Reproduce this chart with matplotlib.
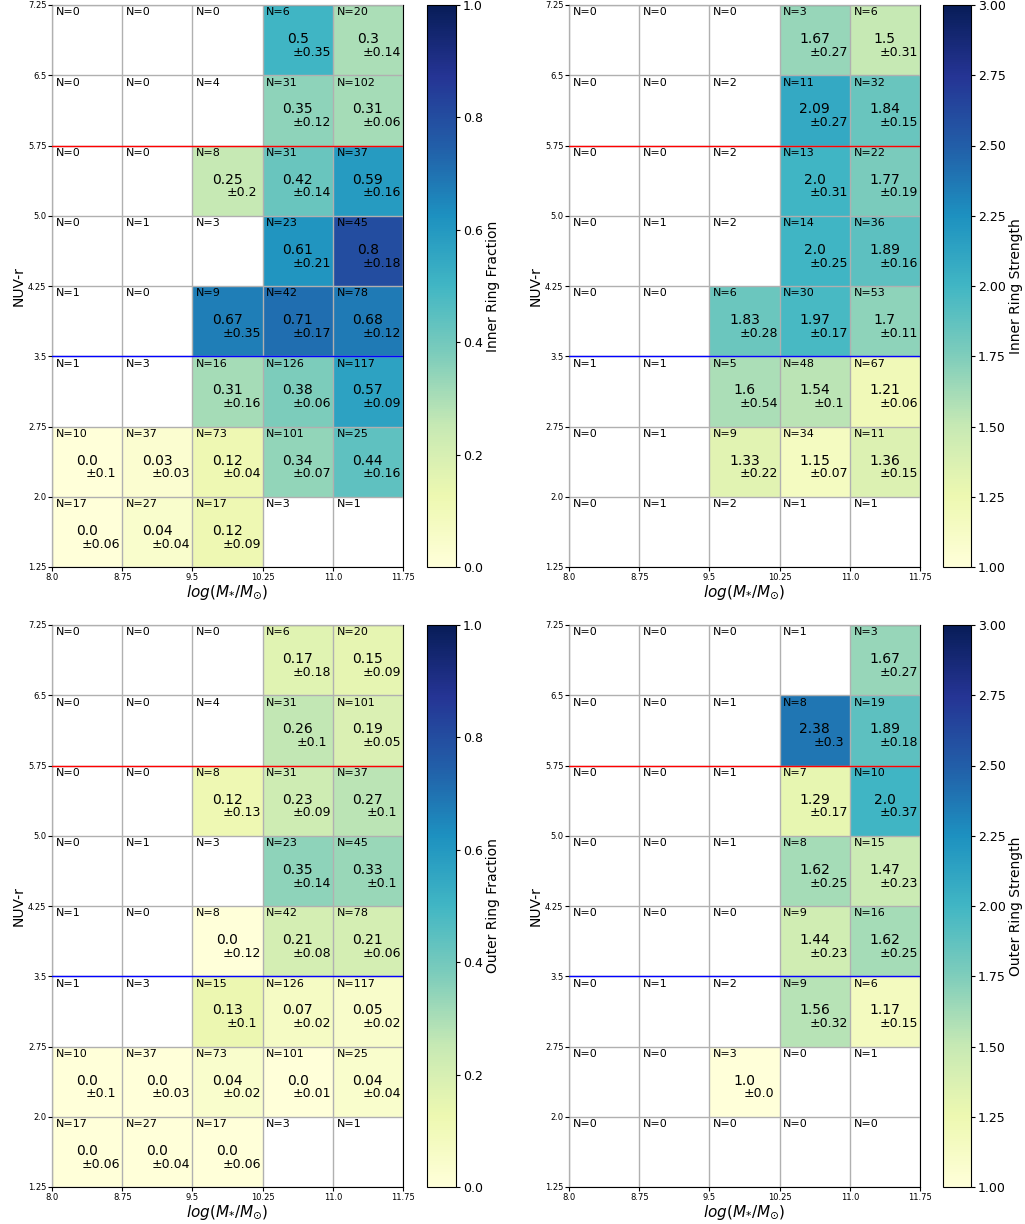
import numpy as np
import matplotlib.pyplot as plt

nan = np.nan

# bin edges
mass_edges = [8.0, 8.75, 9.5, 10.25, 11.0, 11.75]
color_edges = [1.25, 2.0, 2.75, 3.5, 4.25, 5.0, 5.75, 6.5, 7.25]

# all tables: rows from top (NUV-r 6.5-7.25) to bottom (1.25-2.0), columns by mass bin
# --- inner ring fraction
inner_frac_n = [
    [0, 0, 0, 6, 20],
    [0, 0, 4, 31, 102],
    [0, 0, 8, 31, 37],
    [0, 1, 3, 23, 45],
    [1, 0, 9, 42, 78],
    [1, 3, 16, 126, 117],
    [10, 37, 73, 101, 25],
    [17, 27, 17, 3, 1],
]
inner_frac_val = [
    [nan, nan, nan, 0.5, 0.3],
    [nan, nan, nan, 0.35, 0.31],
    [nan, nan, 0.25, 0.42, 0.59],
    [nan, nan, nan, 0.61, 0.8],
    [nan, nan, 0.67, 0.71, 0.68],
    [nan, nan, 0.31, 0.38, 0.57],
    [0.0, 0.03, 0.12, 0.34, 0.44],
    [0.0, 0.04, 0.12, nan, nan],
]
inner_frac_err = [
    [nan, nan, nan, 0.35, 0.14],
    [nan, nan, nan, 0.12, 0.06],
    [nan, nan, 0.2, 0.14, 0.16],
    [nan, nan, nan, 0.21, 0.18],
    [nan, nan, 0.35, 0.17, 0.12],
    [nan, nan, 0.16, 0.06, 0.09],
    [0.1, 0.03, 0.04, 0.07, 0.16],
    [0.06, 0.04, 0.09, nan, nan],
]

# --- inner ring strength
inner_str_n = [
    [0, 0, 0, 3, 6],
    [0, 0, 2, 11, 32],
    [0, 0, 2, 13, 22],
    [0, 1, 2, 14, 36],
    [0, 0, 6, 30, 53],
    [1, 1, 5, 48, 67],
    [0, 1, 9, 34, 11],
    [0, 1, 2, 1, 1],
]
inner_str_val = [
    [nan, nan, nan, 1.67, 1.5],
    [nan, nan, nan, 2.09, 1.84],
    [nan, nan, nan, 2.0, 1.77],
    [nan, nan, nan, 2.0, 1.89],
    [nan, nan, 1.83, 1.97, 1.7],
    [nan, nan, 1.6, 1.54, 1.21],
    [nan, nan, 1.33, 1.15, 1.36],
    [nan, nan, nan, nan, nan],
]
inner_str_err = [
    [nan, nan, nan, 0.27, 0.31],
    [nan, nan, nan, 0.27, 0.15],
    [nan, nan, nan, 0.31, 0.19],
    [nan, nan, nan, 0.25, 0.16],
    [nan, nan, 0.28, 0.17, 0.11],
    [nan, nan, 0.54, 0.1, 0.06],
    [nan, nan, 0.22, 0.07, 0.15],
    [nan, nan, nan, nan, nan],
]

# --- outer ring fraction
outer_frac_n = [
    [0, 0, 0, 6, 20],
    [0, 0, 4, 31, 101],
    [0, 0, 8, 31, 37],
    [0, 1, 3, 23, 45],
    [1, 0, 8, 42, 78],
    [1, 3, 15, 126, 117],
    [10, 37, 73, 101, 25],
    [17, 27, 17, 3, 1],
]
outer_frac_val = [
    [nan, nan, nan, 0.17, 0.15],
    [nan, nan, nan, 0.26, 0.19],
    [nan, nan, 0.12, 0.23, 0.27],
    [nan, nan, nan, 0.35, 0.33],
    [nan, nan, 0.0, 0.21, 0.21],
    [nan, nan, 0.13, 0.07, 0.05],
    [0.0, 0.0, 0.04, 0.0, 0.04],
    [0.0, 0.0, 0.0, nan, nan],
]
outer_frac_err = [
    [nan, nan, nan, 0.18, 0.09],
    [nan, nan, nan, 0.1, 0.05],
    [nan, nan, 0.13, 0.09, 0.1],
    [nan, nan, nan, 0.14, 0.1],
    [nan, nan, 0.12, 0.08, 0.06],
    [nan, nan, 0.1, 0.02, 0.02],
    [0.1, 0.03, 0.02, 0.01, 0.04],
    [0.06, 0.04, 0.06, nan, nan],
]

# --- outer ring strength
outer_str_n = [
    [0, 0, 0, 1, 3],
    [0, 0, 1, 8, 19],
    [0, 0, 1, 7, 10],
    [0, 0, 1, 8, 15],
    [0, 0, 0, 9, 16],
    [0, 1, 2, 9, 6],
    [0, 0, 3, 0, 1],
    [0, 0, 0, 0, 0],
]
outer_str_val = [
    [nan, nan, nan, nan, 1.67],
    [nan, nan, nan, 2.38, 1.89],
    [nan, nan, nan, 1.29, 2.0],
    [nan, nan, nan, 1.62, 1.47],
    [nan, nan, nan, 1.44, 1.62],
    [nan, nan, nan, 1.56, 1.17],
    [nan, nan, 1.0, nan, nan],
    [nan, nan, nan, nan, nan],
]
outer_str_err = [
    [nan, nan, nan, nan, 0.27],
    [nan, nan, nan, 0.3, 0.18],
    [nan, nan, nan, 0.17, 0.37],
    [nan, nan, nan, 0.25, 0.23],
    [nan, nan, nan, 0.23, 0.25],
    [nan, nan, nan, 0.32, 0.15],
    [nan, nan, 0.0, nan, nan],
    [nan, nan, nan, nan, nan],
]

W, H = 1025, 1224


def px_box(x0, y0, x1, y1):
    # pixel box (top-left origin) -> figure fraction rect
    return [x0 / W, 1 - y1 / H, (x1 - x0) / W, (y1 - y0) / H]


def panel(fig, rect, cbrect, n, val, err, vmin, vmax, cblabel):
    ax = fig.add_axes(rect)
    cax = fig.add_axes(cbrect)

    # flip rows so they go bottom -> top
    n = np.array(n)[::-1]
    val = np.array(val, dtype=float)[::-1]
    err = np.array(err, dtype=float)[::-1]

    mesh = ax.pcolormesh(mass_edges, color_edges, np.ma.masked_invalid(val),
                         cmap='YlGnBu', vmin=vmin, vmax=vmax, zorder=1)

    for i in range(len(color_edges) - 1):
        for j in range(len(mass_edges) - 1):
            x0, x1 = mass_edges[j], mass_edges[j + 1]
            y0, y1 = color_edges[i], color_edges[i + 1]
            xc = (x0 + x1) / 2
            yc = (y0 + y1) / 2
            ax.text(x0 + 0.04, y1 - 0.025, f'N={n[i, j]}', fontsize=8,
                    ha='left', va='top', zorder=4)
            if not np.isnan(val[i, j]):
                ax.text(xc, yc + 0.01, str(val[i, j]), fontsize=10,
                        ha='center', va='center', zorder=4)
                ax.text(xc + 0.15, yc - 0.13, '±' + str(err[i, j]), fontsize=9,
                        ha='center', va='center', zorder=4)

    ax.axhline(5.75, color='red', lw=1, zorder=3)
    ax.axhline(3.5, color='blue', lw=1, zorder=3)

    ax.set_xlim(mass_edges[0], mass_edges[-1])
    ax.set_ylim(color_edges[0], color_edges[-1])
    ax.set_xticks(mass_edges)
    ax.set_xticklabels([str(v) for v in mass_edges])
    ax.set_yticks(color_edges)
    ax.set_yticklabels([str(v) for v in color_edges])
    ax.tick_params(labelsize=6, length=3, pad=1)
    ax.grid(True, color='#b0b0b0', lw=1)
    ax.set_axisbelow(False)
    ax.set_xlabel(r'$log(M_{*}/M_{\odot})$', fontsize=11, labelpad=1)
    ax.set_ylabel('NUV-r', fontsize=10, labelpad=2)

    cb = fig.colorbar(mesh, cax=cax)
    cb.ax.tick_params(labelsize=9, length=3, pad=2)
    cb.set_label(cblabel, fontsize=10, labelpad=2)
    return ax


fig = plt.figure(figsize=(W / 100, H / 100), dpi=100)

panel(fig, px_box(52, 5, 403, 567), px_box(427, 5, 456, 567),
      inner_frac_n, inner_frac_val, inner_frac_err, 0, 1, 'Inner Ring Fraction')
panel(fig, px_box(569, 5, 920, 567), px_box(943, 5, 971, 567),
      inner_str_n, inner_str_val, inner_str_err, 1, 3, 'Inner Ring Strength')
panel(fig, px_box(52, 625, 403, 1187), px_box(427, 625, 456, 1187),
      outer_frac_n, outer_frac_val, outer_frac_err, 0, 1, 'Outer Ring Fraction')
panel(fig, px_box(569, 625, 920, 1187), px_box(943, 625, 971, 1187),
      outer_str_n, outer_str_val, outer_str_err, 1, 3, 'Outer Ring Strength')

plt.savefig('out.png', dpi=100)
